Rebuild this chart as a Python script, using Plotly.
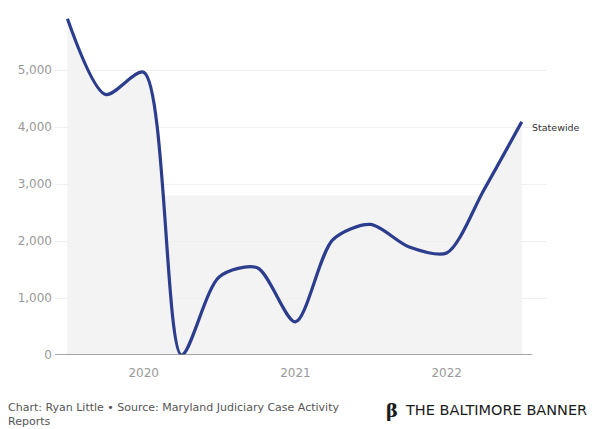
import plotly.graph_objects as go

# Quarterly data
dates = ["2019-07-01", "2019-10-01", "2020-01-01", "2020-04-01", "2020-07-01",
         "2020-10-01", "2021-01-01", "2021-04-01", "2021-07-01", "2021-10-01",
         "2022-01-01", "2022-04-01", "2022-07-01"]
statewide = [5900, 4570, 4960, 0, 1370, 1530, 580, 2020, 2290, 1900, 1790, 2900, 4090]
series_label = "Statewide"
y_ticks = [0, 1000, 2000, 3000, 4000, 5000]
y_tick_text = ["0", "1,000", "2,000", "3,000", "4,000", "5,000"]
x_ticks = ["2020-01-01", "2021-01-01", "2022-01-01"]
x_tick_text = ["2020", "2021", "2022"]
footer = "Chart: Ryan Little • Source: Maryland Judiciary Case Activity<br>Reports"
brand = "THE BALTIMORE BANNER"

LINE = "#2b3d8c"
BAND = "#f3f3f3"
FONT = "'DejaVu Sans', sans-serif"

fig = go.Figure()

fig.add_shape(type="rect", xref="x", yref="y", x0=dates[0], x1=dates[-1],
              y0=0, y1=2800, fillcolor=BAND, line=dict(width=0), layer="below")

fig.add_trace(go.Scatter(
    x=dates, y=statewide, mode="lines",
    line=dict(color=LINE, width=3.2, shape="spline", smoothing=0.8),
    fill="tozeroy", fillcolor=BAND,
    hoverinfo="x+y", showlegend=False, name=series_label,
))

# baseline
fig.add_shape(type="line", xref="paper", yref="y", x0=0, x1=0.97, y0=0, y1=0,
              line=dict(color="#8a8a8a", width=1.5))

fig.add_annotation(x=dates[-1], y=statewide[-1], xref="x", yref="y",
                   text=series_label, showarrow=False, xanchor="left", yanchor="middle",
                   xshift=8, yshift=-6, font=dict(family=FONT, size=9.5, color="#333333"))

fig.add_annotation(x=-0.0996, y=-0.128, xref="paper", yref="paper", text=footer,
                   showarrow=False, xanchor="left", yanchor="top", align="left",
                   font=dict(family=FONT, size=11, color="#555555"))

fig.add_annotation(x=0.668, y=-0.161, xref="paper", yref="paper",
                   text="<b>β</b>", showarrow=False, xanchor="left", yanchor="middle",
                   font=dict(family="'DejaVu Serif', serif", size=18, color="#1a1a1a"))
fig.add_annotation(x=0.707, y=-0.161, xref="paper", yref="paper",
                   text=brand, showarrow=False, xanchor="left", yanchor="middle",
                   font=dict(family=FONT, size=14.5, color="#1a1a1a"))

fig.update_layout(
    width=598, height=421,
    margin=dict(l=47, r=59, t=5, b=74),
    paper_bgcolor="white", plot_bgcolor="white",
    font=dict(family=FONT, size=12, color="#999999"),
    xaxis=dict(type="date", range=["2019-06-01", "2022-08-31"],
               tickvals=x_ticks, ticktext=x_tick_text, showgrid=False,
               zeroline=False, showline=False, ticks="", ticklabelstandoff=9,
               tickfont=dict(size=12, color="#999999")),
    yaxis=dict(range=[0, 6000], tickvals=y_ticks, ticktext=y_tick_text,
               showgrid=True, gridcolor="#efefef", gridwidth=1, zeroline=False,
               showline=False, ticks="", ticklabelstandoff=2,
               tickfont=dict(size=12, color="#999999")),
)

fig.write_html("out.html")
